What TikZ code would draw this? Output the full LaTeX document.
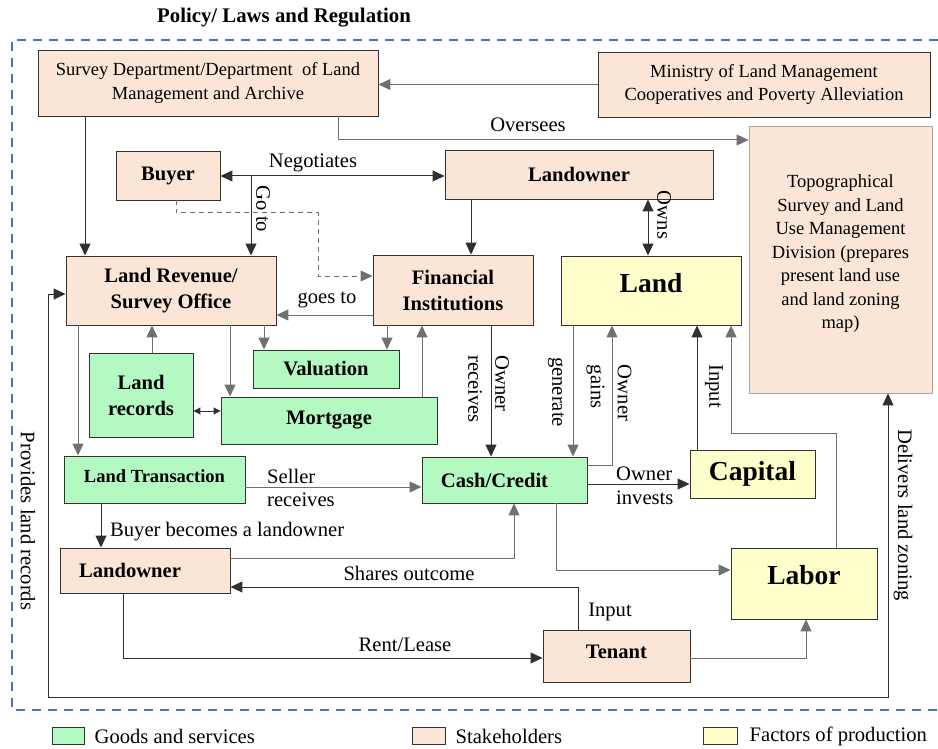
\documentclass[tikz,border=0pt]{standalone}
\usepackage{fontspec}
\setmainfont{Liberation Serif}
\usetikzlibrary{arrows.meta}
\definecolor{peach}{HTML}{FBE5D6}
\definecolor{mint}{HTML}{B4F8C2}
\definecolor{cream}{HTML}{FFFFCC}
\definecolor{frameblue}{HTML}{4472C4}
\definecolor{wire}{HTML}{303030}
\definecolor{softwire}{HTML}{707070}

\begin{document}
\begin{tikzpicture}[x=1pt,y=-1pt,
  box/.style={draw=black!80, line width=0.9pt, inner sep=0pt, align=center},
  holder/.style={box, fill=peach},
  goods/.style={box, fill=mint},
  factor/.style={box, fill=cream},
  txt/.style={font=\fontsize{18.5}{23.5}\selectfont},
  bold/.style={font=\fontsize{20.6}{26}\selectfont\bfseries},
  big/.style={font=\fontsize{27.5}{32}\selectfont\bfseries},
  lbl/.style={font=\fontsize{20.6}{23.5}\selectfont, inner sep=0pt},
  vlbl/.style={font=\fontsize{20.6}{27}\selectfont, inner sep=0pt, rotate=-90, align=left},
  tip/.tip={Triangle[length=12pt,width=11pt]},
  smalltip/.tip={Triangle[length=7pt,width=7pt]},
  link/.style={draw=wire, line width=1pt, -tip},
  glink/.style={link, draw=softwire},
  both/.style={draw=wire, line width=1pt, tip-tip},
]
\useasboundingbox (0,0) rectangle (938,749);

% title and policy frame
\node[font=\fontsize{20.8}{24}\selectfont\bfseries] (title) at (284,18) {Policy/ Laws and Regulation};
\draw[frameblue, line width=2.2pt, dash pattern=on 9pt off 7pt]
  (938,40) -- (12,40) -- (12,710) -- (938,710);

% stakeholders
\node[holder, txt, minimum width=340pt, minimum height=66pt] (surv) at (208,83)
  {Survey Department/Department\ \ of Land\\Management and Archive};
\node[holder, txt, minimum width=332pt, minimum height=65pt] (min) at (764,84.5)
  {Ministry of Land Management\\Cooperatives and Poverty Alleviation};
\node[holder, txt, draw=black!35, minimum width=183pt, minimum height=267pt] (topo) at (840.5,259.5)
  {\raisebox{0pt}[\height][\dimexpr\depth+12pt\relax]{\begin{tabular}{@{}c@{}}Topographical\\Survey and Land\\Use Management\\Division (prepares\\present land use\\and land zoning\\map)\end{tabular}}};
\node[holder, bold, minimum width=104pt, minimum height=49pt] (buyer) at (168,175.5) {Buyer};
\node[holder, bold, minimum width=268pt, minimum height=49pt] (lo1) at (579,174.5) {Landowner};
\node[holder, bold, minimum width=210pt, minimum height=69pt] (rev) at (171,290.5) {Land Revenue/\\Survey Office};
\node[holder, bold, minimum width=160pt, minimum height=70pt] (fin) at (453,290) {Financial\\Institutions};
\node[holder, bold, minimum width=170pt, minimum height=45pt] (lo2) at (145,570.5) {Landowner\hspace*{30pt}};
\node[holder, bold, minimum width=147pt, minimum height=52pt] (ten) at (616.5,656) {\raisebox{8pt}{Tenant}};

% goods and services
\node[goods, bold, minimum width=146pt, minimum height=38pt] (val) at (326,369) {Valuation};
\node[goods, bold, minimum width=104pt, minimum height=84pt] (rec) at (141,395) {Land\\records};
\node[goods, bold, minimum width=216pt, minimum height=47pt] (mort) at (329,420.5) {Mortgage};
\node[goods, font=\fontsize{18.5}{23}\selectfont\bfseries, minimum width=181pt, minimum height=47pt] (trans) at (154.5,479.5) {\raisebox{6pt}{Land Transaction}};
\node[goods, bold, minimum width=165pt, minimum height=46pt] (cash) at (504.5,480) {Cash/Credit\hspace*{20pt}};

% factors of production
\node[factor, big, minimum width=180pt, minimum height=69pt] (land) at (651,290.5) {\raisebox{16pt}{Land}};
\node[factor, big, minimum width=125pt, minimum height=48pt] (cap) at (752.5,474) {Capital};
\node[factor, big, minimum width=146pt, minimum height=71pt] (labor) at (804,583.5) {\raisebox{18pt}{Labor}};

% connectors
\draw[glink] (min.west) -- (min.west -| surv.east);
\draw[glink] (surv.south -| 338,0) |- (topo.west |- 0,140);
\node[lbl] (oversees) at (528,125) {Oversees};
\draw[link] (surv.south -| 85,0) -- (rev.north -| 85,0);

\draw[both] (buyer.east |- 0,176) -- (lo1.west |- 0,176);
\node[lbl] (nego) at (313,163) {Negotiates};
\coordinate (split) at (buyer.east -| 251,0);
\draw[link] (split |- 0,176) -- (split |- rev.north);
\node[vlbl] (goto) at (263,209) {Go to};
\draw[link, draw=softwire, dash pattern=on 5pt off 4pt] (buyer.south -| 176,0) |- (318,213) |- (fin.west |- 0,276);

\draw[link] (lo1.south -| 471,0) -- (fin.north -| 471,0);
\draw[both] (lo1.south -| 648,0) -- (land.north -| 648,0);
\node[vlbl] (owns) at (664,215) {Owns};

\draw[glink] (fin.west |- 0,315) -- (rev.east |- 0,315);
\node[lbl] (goes) at (327,300) {goes to};
\draw[glink] (rev.south -| 264,0) -- (val.north -| 264,0);
\draw[glink] (fin.south -| 387,0) -- (val.north -| 387,0);
\draw[glink] (mort.north -| 422,0) -- (fin.south -| 422,0);
\draw[glink] (rec.north -| 152,0) -- (rev.south -| 152,0);
\draw[glink] (rev.south -| 230,0) -- (mort.north -| 230,0);
\draw[draw=wire, line width=1pt, smalltip-smalltip] (rec.east |- 0,411) -- (mort.west |- 0,411);
\draw[glink] (rev.south -| 78,0) -- (trans.north -| 78,0);

\draw[glink] (trans.east |- 0,487) -- (cash.west |- 0,487);
\node[lbl, anchor=west, align=left] (seller) at (267,488) {Seller\\receives};
\draw[link] (fin.south -| 491,0) -- (cash.north -| 491,0);
\node[vlbl] (ownrec) at (488.5,389) {Owner\\receives};
\draw[glink] (land.south -| 573,0) -- (cash.north -| 573,0);
\node[vlbl] (gen) at (556,392) {generate};
\draw[glink] (cash.east |- 0,465) -| (land.south -| 612,0);
\node[vlbl] (gains) at (609,393) {Owner\\gains};
\draw[link] (cash.east |- 0,484) -- (cap.west |- 0,484);
\node[lbl, anchor=west, align=left] (invest) at (616,486) {Owner\\invests};
\draw[link] (cap.north -| 697,0) -- (land.south -| 697,0);
\node[vlbl] (input1) at (714,386) {Input};
\draw[glink] (labor.north -| 836,0) -- (836,433) -| (land.south -| 731,0);
\draw[glink] (cash.south -| 556,0) |- (labor.west |- 0,570);

\draw[link] (trans.south -| 101,0) -- (lo2.north -| 101,0);
\node[lbl, anchor=west] (becomes) at (110,532) {Buyer becomes a landowner};
\draw[glink] (lo2.east |- 0,558) -| (cash.south -| 514,0);
\draw[link] (ten.north -| 578,0) |- (lo2.east |- 0,587);
\node[lbl] (shares) at (409,573) {Shares outcome};
\node[lbl] (input2) at (610,612) {Input};
\draw[link] (lo2.south -| 123,0) |- (ten.west |- 0,658);
\node[lbl] (rent) at (405,645) {Rent/Lease};
\draw[glink] (ten.east |- 0,658) -| (labor.south -| 806,0);

\draw[both] (rev.west |- 0,294) -| (48,697) -| (topo.south -| 888,0);
\node[vlbl] (provides) at (28,521) {Provides land records};
\node[vlbl] (delivers) at (903,515) {Delivers land zoning};

% legend
\node[goods, minimum width=32pt, minimum height=17pt] (kgoods) at (68,736) {};
\node[lbl, anchor=west] (kgoodst) at ([xshift=10pt]kgoods.east) {Goods and services};
\node[holder, minimum width=33pt, minimum height=17pt] (khold) at (428.5,736) {};
\node[lbl, anchor=west] (kholdt) at ([xshift=10pt]khold.east) {Stakeholders};
\node[factor, minimum width=34pt, minimum height=17pt] (kfact) at (720,736) {};
\node[lbl, anchor=west] (kfactt) at ([xshift=12pt]kfact.east) {Factors of production};
\end{tikzpicture}
\end{document}
